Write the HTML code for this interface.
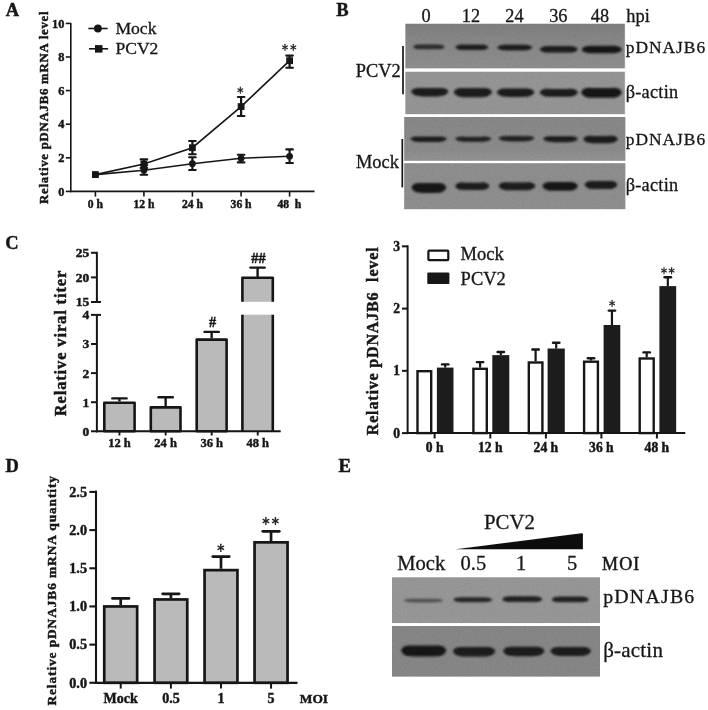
<!DOCTYPE html>
<html><head><meta charset="utf-8"><title>Figure</title>
<style>
html,body{margin:0;padding:0;background:#fff;}
body{width:708px;height:710px;overflow:hidden;font-family:"Liberation Serif",serif;}
svg{display:block;}
</style></head>
<body>
<svg width="708" height="710" viewBox="0 0 708 710">
<defs>
<filter id="b1" x="-20%" y="-100%" width="140%" height="300%"><feGaussianBlur stdDeviation="1.2 0.85"/></filter>
<filter id="soft" x="-5%" y="-5%" width="110%" height="110%"><feGaussianBlur stdDeviation="0.4"/></filter>
<filter id="noise" x="0" y="0" width="100%" height="100%"><feTurbulence type="fractalNoise" baseFrequency="0.55" numOctaves="3" seed="7" result="t"/><feColorMatrix in="t" type="matrix" values="0.34 0.33 0.33 0 0  0.34 0.33 0.33 0 0  0.34 0.33 0.33 0 0  0 0 0 0 0.28"/></filter>
<linearGradient id="g3" x1="0" y1="0" x2="0" y2="1"><stop offset="0" stop-color="#7c7c7c"/><stop offset="0.75" stop-color="#808080"/><stop offset="1" stop-color="#8a8a8a"/></linearGradient>
<linearGradient id="g1" x1="0" y1="0" x2="0" y2="1"><stop offset="0" stop-color="#727272"/><stop offset="0.35" stop-color="#7b7b7b"/><stop offset="1" stop-color="#838383"/></linearGradient>
</defs>
<rect x="0" y="0" width="708" height="710" fill="#ffffff"/>
<g filter="url(#soft)">
<line x1="70.8" y1="22.9" x2="70.8" y2="192.20000000000002" stroke="#161616" stroke-width="1.6" stroke-linecap="butt"/>
<line x1="70.0" y1="191.4" x2="314.5" y2="191.4" stroke="#161616" stroke-width="1.6" stroke-linecap="butt"/>
<line x1="65.8" y1="191.4" x2="70.8" y2="191.4" stroke="#161616" stroke-width="1.6" stroke-linecap="butt"/>
<text x="64.4" y="195.5" text-anchor="end" style="font-family:'Liberation Serif',serif;font-size:12.3px;font-weight:bold;" fill="#161616" stroke="#161616" stroke-width="0.45" xml:space="preserve">0</text>
<line x1="65.8" y1="157.8" x2="70.8" y2="157.8" stroke="#161616" stroke-width="1.6" stroke-linecap="butt"/>
<text x="64.4" y="161.9" text-anchor="end" style="font-family:'Liberation Serif',serif;font-size:12.3px;font-weight:bold;" fill="#161616" stroke="#161616" stroke-width="0.45" xml:space="preserve">2</text>
<line x1="65.8" y1="124.2" x2="70.8" y2="124.2" stroke="#161616" stroke-width="1.6" stroke-linecap="butt"/>
<text x="64.4" y="128.3" text-anchor="end" style="font-family:'Liberation Serif',serif;font-size:12.3px;font-weight:bold;" fill="#161616" stroke="#161616" stroke-width="0.45" xml:space="preserve">4</text>
<line x1="65.8" y1="90.6" x2="70.8" y2="90.6" stroke="#161616" stroke-width="1.6" stroke-linecap="butt"/>
<text x="64.4" y="94.7" text-anchor="end" style="font-family:'Liberation Serif',serif;font-size:12.3px;font-weight:bold;" fill="#161616" stroke="#161616" stroke-width="0.45" xml:space="preserve">6</text>
<line x1="65.8" y1="57.0" x2="70.8" y2="57.0" stroke="#161616" stroke-width="1.6" stroke-linecap="butt"/>
<text x="64.4" y="61.1" text-anchor="end" style="font-family:'Liberation Serif',serif;font-size:12.3px;font-weight:bold;" fill="#161616" stroke="#161616" stroke-width="0.45" xml:space="preserve">8</text>
<line x1="65.8" y1="23.4" x2="70.8" y2="23.4" stroke="#161616" stroke-width="1.6" stroke-linecap="butt"/>
<text x="64.4" y="27.5" text-anchor="end" style="font-family:'Liberation Serif',serif;font-size:12.3px;font-weight:bold;" fill="#161616" stroke="#161616" stroke-width="0.45" xml:space="preserve">10</text>
<line x1="95.4" y1="191.4" x2="95.4" y2="196.6" stroke="#161616" stroke-width="1.6" stroke-linecap="butt"/>
<text x="95.4" y="208.1" text-anchor="middle" style="font-family:'Liberation Serif',serif;font-size:11.6px;font-weight:bold;" fill="#161616" stroke="#161616" stroke-width="0.45" xml:space="preserve">0 h</text>
<line x1="143.9" y1="191.4" x2="143.9" y2="196.6" stroke="#161616" stroke-width="1.6" stroke-linecap="butt"/>
<text x="143.9" y="208.1" text-anchor="middle" style="font-family:'Liberation Serif',serif;font-size:11.6px;font-weight:bold;" fill="#161616" stroke="#161616" stroke-width="0.45" xml:space="preserve">12 h</text>
<line x1="192.4" y1="191.4" x2="192.4" y2="196.6" stroke="#161616" stroke-width="1.6" stroke-linecap="butt"/>
<text x="192.4" y="208.1" text-anchor="middle" style="font-family:'Liberation Serif',serif;font-size:11.6px;font-weight:bold;" fill="#161616" stroke="#161616" stroke-width="0.45" xml:space="preserve">24 h</text>
<line x1="241.1" y1="191.4" x2="241.1" y2="196.6" stroke="#161616" stroke-width="1.6" stroke-linecap="butt"/>
<text x="241.1" y="208.1" text-anchor="middle" style="font-family:'Liberation Serif',serif;font-size:11.6px;font-weight:bold;" fill="#161616" stroke="#161616" stroke-width="0.45" xml:space="preserve">36 h</text>
<line x1="289.6" y1="191.4" x2="289.6" y2="196.6" stroke="#161616" stroke-width="1.6" stroke-linecap="butt"/>
<text x="289.3" y="208.1" text-anchor="middle" style="font-family:'Liberation Serif',serif;font-size:11.6px;font-weight:bold;" fill="#161616" stroke="#161616" stroke-width="0.45" xml:space="preserve">48  h</text>
<text x="48.0" y="204.0" text-anchor="start" style="font-family:'Liberation Serif',serif;font-size:12.8px;font-weight:bold;letter-spacing:0.75px;" fill="#161616" stroke="#161616" stroke-width="0.45" transform="rotate(-90 48.0 204.0)" xml:space="preserve">Relative pDNAJB6 mRNA level</text>
<polyline points="95.4,174.6 143.9,170.23 192.4,163.68 241.1,158.3 289.6,156.29" fill="none" stroke="#161616" stroke-width="1.6"/>
<polyline points="95.4,174.6 143.9,164.02 192.4,147.72 241.1,106.56 289.6,60.7" fill="none" stroke="#161616" stroke-width="1.6"/>
<circle cx="95.4" cy="174.6" r="3.4" fill="#161616"/>
<rect x="92.0" y="171.2" width="6.8" height="6.8" fill="#161616"/>
<line x1="143.9" y1="165" x2="143.9" y2="174.8" stroke="#161616" stroke-width="2.2" stroke-linecap="butt"/>
<line x1="140.6" y1="165" x2="147.2" y2="165" stroke="#161616" stroke-width="2.1" stroke-linecap="round"/>
<line x1="140.6" y1="174.8" x2="147.2" y2="174.8" stroke="#161616" stroke-width="2.1" stroke-linecap="round"/>
<line x1="143.9" y1="159.4" x2="143.9" y2="168" stroke="#161616" stroke-width="2.2" stroke-linecap="butt"/>
<line x1="140.6" y1="159.4" x2="147.2" y2="159.4" stroke="#161616" stroke-width="2.1" stroke-linecap="round"/>
<line x1="140.6" y1="168" x2="147.2" y2="168" stroke="#161616" stroke-width="2.1" stroke-linecap="round"/>
<circle cx="143.9" cy="170.23" r="3.4" fill="#161616"/>
<rect x="140.5" y="160.62" width="6.8" height="6.8" fill="#161616"/>
<line x1="192.4" y1="157.3" x2="192.4" y2="170" stroke="#161616" stroke-width="2.2" stroke-linecap="butt"/>
<line x1="189.1" y1="157.3" x2="195.7" y2="157.3" stroke="#161616" stroke-width="2.1" stroke-linecap="round"/>
<line x1="189.1" y1="170" x2="195.7" y2="170" stroke="#161616" stroke-width="2.1" stroke-linecap="round"/>
<line x1="192.4" y1="141" x2="192.4" y2="154.3" stroke="#161616" stroke-width="2.2" stroke-linecap="butt"/>
<line x1="189.1" y1="141" x2="195.7" y2="141" stroke="#161616" stroke-width="2.1" stroke-linecap="round"/>
<line x1="189.1" y1="154.3" x2="195.7" y2="154.3" stroke="#161616" stroke-width="2.1" stroke-linecap="round"/>
<circle cx="192.4" cy="163.68" r="3.4" fill="#161616"/>
<rect x="189.0" y="144.32" width="6.8" height="6.8" fill="#161616"/>
<line x1="241.1" y1="154.8" x2="241.1" y2="162.4" stroke="#161616" stroke-width="2.2" stroke-linecap="butt"/>
<line x1="237.8" y1="154.8" x2="244.4" y2="154.8" stroke="#161616" stroke-width="2.1" stroke-linecap="round"/>
<line x1="237.8" y1="162.4" x2="244.4" y2="162.4" stroke="#161616" stroke-width="2.1" stroke-linecap="round"/>
<line x1="241.1" y1="97" x2="241.1" y2="116" stroke="#161616" stroke-width="2.2" stroke-linecap="butt"/>
<line x1="237.8" y1="97" x2="244.4" y2="97" stroke="#161616" stroke-width="2.1" stroke-linecap="round"/>
<line x1="237.8" y1="116" x2="244.4" y2="116" stroke="#161616" stroke-width="2.1" stroke-linecap="round"/>
<circle cx="241.1" cy="158.3" r="3.4" fill="#161616"/>
<rect x="237.7" y="103.16" width="6.8" height="6.8" fill="#161616"/>
<line x1="289.6" y1="149.4" x2="289.6" y2="163.0" stroke="#161616" stroke-width="2.2" stroke-linecap="butt"/>
<line x1="286.3" y1="149.4" x2="292.9" y2="149.4" stroke="#161616" stroke-width="2.1" stroke-linecap="round"/>
<line x1="286.3" y1="163.0" x2="292.9" y2="163.0" stroke="#161616" stroke-width="2.1" stroke-linecap="round"/>
<line x1="289.6" y1="55.6" x2="289.6" y2="67.7" stroke="#161616" stroke-width="2.2" stroke-linecap="butt"/>
<line x1="286.3" y1="55.6" x2="292.9" y2="55.6" stroke="#161616" stroke-width="2.1" stroke-linecap="round"/>
<line x1="286.3" y1="67.7" x2="292.9" y2="67.7" stroke="#161616" stroke-width="2.1" stroke-linecap="round"/>
<circle cx="289.6" cy="156.29" r="3.4" fill="#161616"/>
<rect x="286.2" y="57.3" width="6.8" height="6.8" fill="#161616"/>
<line x1="240.3" y1="87.1" x2="240.3" y2="93.3" stroke="#262626" stroke-width="1.15" stroke-linecap="round"/>
<line x1="237.88" y1="88.81" x2="242.72" y2="91.59" stroke="#262626" stroke-width="1.15" stroke-linecap="round"/>
<line x1="242.72" y1="88.81" x2="237.88" y2="91.59" stroke="#262626" stroke-width="1.15" stroke-linecap="round"/>
<line x1="285.0" y1="44.2" x2="285.0" y2="50.4" stroke="#262626" stroke-width="1.15" stroke-linecap="round"/>
<line x1="282.58" y1="45.9" x2="287.42" y2="48.7" stroke="#262626" stroke-width="1.15" stroke-linecap="round"/>
<line x1="287.42" y1="45.9" x2="282.58" y2="48.7" stroke="#262626" stroke-width="1.15" stroke-linecap="round"/>
<line x1="293.3" y1="44.2" x2="293.3" y2="50.4" stroke="#262626" stroke-width="1.15" stroke-linecap="round"/>
<line x1="290.88" y1="45.9" x2="295.72" y2="48.7" stroke="#262626" stroke-width="1.15" stroke-linecap="round"/>
<line x1="295.72" y1="45.9" x2="290.88" y2="48.7" stroke="#262626" stroke-width="1.15" stroke-linecap="round"/>
<line x1="88.4" y1="28.5" x2="107.6" y2="28.5" stroke="#161616" stroke-width="1.6" stroke-linecap="butt"/>
<circle cx="97.9" cy="28.5" r="3.9" fill="#161616"/>
<text x="115.4" y="33.6" text-anchor="start" style="font-family:'Liberation Serif',serif;font-size:17.6px;" fill="#161616" stroke="#161616" stroke-width="0.3" xml:space="preserve">Mock</text>
<line x1="89.0" y1="48.8" x2="108.1" y2="48.8" stroke="#161616" stroke-width="1.6" stroke-linecap="butt"/>
<rect x="95" y="45.1" width="7.5" height="7.5" fill="#161616"/>
<text x="115.4" y="54.1" text-anchor="start" style="font-family:'Liberation Serif',serif;font-size:17.6px;" fill="#161616" stroke="#161616" stroke-width="0.3" xml:space="preserve">PCV2</text>
<rect x="405.2" y="23.8" width="219.6" height="44.8" fill="url(#g1)"/>
<rect x="405.2" y="71.5" width="219.6" height="42.9" fill="#8c8c8c"/>
<rect x="404.2" y="117" width="221.1" height="43.9" fill="url(#g3)"/>
<rect x="404.2" y="163.1" width="221.1" height="46" fill="#848484"/>
<rect x="404.2" y="23.8" width="221.1" height="185.3" fill="#808080" filter="url(#noise)" opacity="0.55"/>
<rect x="403" y="68.6" width="224" height="2.9" fill="#fff"/>
<rect x="403" y="114.4" width="224" height="2.6" fill="#fff"/>
<rect x="403" y="160.9" width="224" height="2.2" fill="#fff"/>
<rect x="403.9" y="23" width="1.3" height="92" fill="#fff"/>
<text x="426" y="21.8" text-anchor="middle" style="font-family:'Liberation Serif',serif;font-size:18.3px;" fill="#161616" stroke="#161616" stroke-width="0.3" xml:space="preserve">0</text>
<text x="471" y="21.8" text-anchor="middle" style="font-family:'Liberation Serif',serif;font-size:18.3px;" fill="#161616" stroke="#161616" stroke-width="0.3" xml:space="preserve">12</text>
<text x="514.5" y="21.8" text-anchor="middle" style="font-family:'Liberation Serif',serif;font-size:18.3px;" fill="#161616" stroke="#161616" stroke-width="0.3" xml:space="preserve">24</text>
<text x="558.3" y="21.8" text-anchor="middle" style="font-family:'Liberation Serif',serif;font-size:18.3px;" fill="#161616" stroke="#161616" stroke-width="0.3" xml:space="preserve">36</text>
<text x="599.9" y="21.8" text-anchor="middle" style="font-family:'Liberation Serif',serif;font-size:18.3px;" fill="#161616" stroke="#161616" stroke-width="0.3" xml:space="preserve">48</text>
<text x="626.3" y="21.8" text-anchor="start" style="font-family:'Liberation Serif',serif;font-size:18.4px;" fill="#161616" stroke="#161616" stroke-width="0.3" xml:space="preserve">hpi</text>
<text x="625.7" y="53.1" text-anchor="start" style="font-family:'Liberation Serif',serif;font-size:17.4px;letter-spacing:1.0px;" fill="#161616" stroke="#161616" stroke-width="0.3" xml:space="preserve">pDNAJB6</text>
<text x="625.7" y="98.0" text-anchor="start" style="font-family:'Liberation Serif',serif;font-size:18.3px;letter-spacing:0.25px;" fill="#161616" stroke="#161616" stroke-width="0.3" xml:space="preserve">β-actin</text>
<text x="625.7" y="144.6" text-anchor="start" style="font-family:'Liberation Serif',serif;font-size:17.4px;letter-spacing:1.0px;" fill="#161616" stroke="#161616" stroke-width="0.3" xml:space="preserve">pDNAJB6</text>
<text x="625.7" y="190.9" text-anchor="start" style="font-family:'Liberation Serif',serif;font-size:18.3px;letter-spacing:0.25px;" fill="#161616" stroke="#161616" stroke-width="0.3" xml:space="preserve">β-actin</text>
<text x="355.8" y="76.5" text-anchor="start" style="font-family:'Liberation Serif',serif;font-size:18.4px;" fill="#161616" stroke="#161616" stroke-width="0.3" xml:space="preserve">PCV2</text>
<text x="356" y="168" text-anchor="start" style="font-family:'Liberation Serif',serif;font-size:18.4px;" fill="#161616" stroke="#161616" stroke-width="0.3" xml:space="preserve">Mock</text>
<line x1="403" y1="46" x2="403" y2="94.3" stroke="#161616" stroke-width="1.7" stroke-linecap="butt"/>
<line x1="402.3" y1="139" x2="402.3" y2="187.4" stroke="#161616" stroke-width="1.7" stroke-linecap="butt"/>
<path d="M412.8,46.9 C414.704,44.55 418.24,44.55 421.504,44.55 L436.096,44.55 C439.36,44.55 442.896,44.55 444.8,46.9 C442.896,49.25 439.36,49.25 435.00800000000004,49.25 L422.592,49.25 C418.24,49.25 414.704,49.25 412.8,46.9 Z" fill="#262626" opacity="0.95" filter="url(#b1)"/>
<path d="M455.2,47.2 C457.1873,44.400000000000006 460.878,44.400000000000006 464.2848,44.400000000000006 L479.5152,44.400000000000006 C482.922,44.400000000000006 486.6127,44.400000000000006 488.6,47.2 C486.6127,50.0 482.922,50.0 478.3796,50.0 L465.4204,50.0 C460.878,50.0 457.1873,50.0 455.2,47.2 Z" fill="#1e1e1e" opacity="1.0" filter="url(#b1)"/>
<path d="M497.0,47.6 C499.11225,44.800000000000004 503.035,44.800000000000004 506.656,44.800000000000004 L522.844,44.800000000000004 C526.465,44.800000000000004 530.38775,44.800000000000004 532.5,47.6 C530.38775,50.4 526.465,50.4 521.637,50.4 L507.863,50.4 C503.035,50.4 499.11225,50.4 497.0,47.6 Z" fill="#1e1e1e" opacity="1.0" filter="url(#b1)"/>
<path d="M539.5,49.3 C541.775,46.0 546.0,46.0 549.9,46.0 L567.6,46.0 C571.5,46.0 575.725,46.0 578,49.3 C575.725,52.599999999999994 571.5,52.599999999999994 566.3,52.599999999999994 L551.2,52.599999999999994 C546.0,52.599999999999994 541.775,52.599999999999994 539.5,49.3 Z" fill="#1a1a1a" opacity="1.0" filter="url(#b1)"/>
<path d="M581.5,49.5 C583.775,45.7 588.0,45.7 591.9,45.7 L611.6,45.7 C615.5,45.7 619.725,45.7 622,49.5 C619.725,53.3 615.5,53.3 610.3,53.3 L593.2,53.3 C588.0,53.3 583.775,53.3 581.5,49.5 Z" fill="#181818" opacity="1.0" filter="url(#b1)"/>
<path d="M411.0,91.6 C413.23720000000003,87.6 417.392,87.83999999999999 421.2272,88.0 L438.37280000000004,88.0 C442.208,87.83999999999999 446.3628,87.6 448.6,91.6 C446.3628,95.6 442.208,96.39999999999999 437.0944,96.39999999999999 L422.5056,96.39999999999999 C417.392,96.39999999999999 413.23720000000003,95.6 411.0,91.6 Z" fill="#1a1a1a" opacity="1.0" filter="url(#b1)"/>
<path d="M453.6,92.0 C455.875,87.6 460.1,87.83999999999999 464.0,88.0 L481.8,88.0 C485.7,87.83999999999999 489.925,87.6 492.2,92.0 C489.925,96.4 485.7,97.2 480.5,97.2 L465.3,97.2 C460.1,97.2 455.875,96.4 453.6,92.0 Z" fill="#1a1a1a" opacity="1.0" filter="url(#b1)"/>
<path d="M496.6,92.3 C498.85505,88.3 503.043,88.48 506.90880000000004,88.6 L524.1912,88.6 C528.057,88.48 532.24495,88.3 534.5,92.3 C532.24495,96.3 528.057,96.89999999999999 522.9026,96.89999999999999 L508.1974,96.89999999999999 C503.043,96.89999999999999 498.85505,96.3 496.6,92.3 Z" fill="#1a1a1a" opacity="1.0" filter="url(#b1)"/>
<path d="M539.5,92.4 C541.775,88.60000000000001 546.0,88.78000000000002 549.9,88.9 L567.6,88.9 C571.5,88.78000000000002 575.725,88.60000000000001 578,92.4 C575.725,96.2 571.5,96.8 566.3,96.8 L551.2,96.8 C546.0,96.8 541.775,96.2 539.5,92.4 Z" fill="#1a1a1a" opacity="1.0" filter="url(#b1)"/>
<path d="M581,92.4 C583.275,87.60000000000001 587.5,87.78000000000002 591.4,87.9 L611.6,87.9 C615.5,87.78000000000002 619.725,87.60000000000001 622,92.4 C619.725,97.2 615.5,97.8 610.3,97.8 L592.7,97.8 C587.5,97.8 583.275,97.2 581,92.4 Z" fill="#161616" opacity="1.0" filter="url(#b1)"/>
<path d="M410.0,138.8 C412.2134,136.20000000000002 416.324,136.41000000000003 420.1184,136.55 L437.0816,136.55 C440.876,136.41000000000003 444.9866,136.20000000000002 447.2,138.8 C444.9866,141.4 440.876,142.1 435.8168,142.1 L421.3832,142.1 C416.324,142.1 412.2134,141.4 410.0,138.8 Z" fill="#1e1e1e" opacity="1.0" filter="url(#b1)"/>
<path d="M455.0,138.8 C457.17175,136.35000000000002 461.205,136.53000000000003 464.928,136.65000000000003 L481.572,136.65000000000003 C485.295,136.53000000000003 489.32825,136.35000000000002 491.5,138.8 C489.32825,141.25 485.295,141.85 480.331,141.85 L466.169,141.85 C461.205,141.85 457.17175,141.25 455.0,138.8 Z" fill="#202020" opacity="1.0" filter="url(#b1)"/>
<path d="M498.5,138.3 C500.642,135.8 504.62,135.98000000000002 508.29200000000003,136.10000000000002 L524.708,136.10000000000002 C528.38,135.98000000000002 532.358,135.8 534.5,138.3 C532.358,140.8 528.38,141.4 523.484,141.4 L509.516,141.4 C504.62,141.4 500.642,140.8 498.5,138.3 Z" fill="#202020" opacity="1.0" filter="url(#b1)"/>
<path d="M543.0,138.8 C545.0825,136.0 548.95,136.18 552.52,136.3 L568.48,136.3 C572.05,136.18 575.9175,136.0 578,138.8 C575.9175,141.60000000000002 572.05,142.20000000000002 567.29,142.20000000000002 L553.71,142.20000000000002 C548.95,142.20000000000002 545.0825,141.60000000000002 543.0,138.8 Z" fill="#1e1e1e" opacity="1.0" filter="url(#b1)"/>
<path d="M583.3,139.0 C585.36465,135.5 589.199,135.74 592.7384,135.9 L608.5616,135.9 C612.101,135.74 615.93535,135.5 618,139.0 C615.93535,142.5 612.101,143.3 607.3818,143.3 L593.9182,143.3 C589.199,143.3 585.36465,142.5 583.3,139.0 Z" fill="#1a1a1a" opacity="1.0" filter="url(#b1)"/>
<path d="M411.4,187.5 C413.48845,182.7 417.36699999999996,182.88 420.9472,183.0 L436.95279999999997,183.0 C440.533,182.88 444.41155,182.7 446.5,187.5 C444.41155,192.3 440.533,192.9 435.75939999999997,192.9 L422.1406,192.9 C417.36699999999996,192.9 413.48845,192.3 411.4,187.5 Z" fill="#161616" opacity="1.0" filter="url(#b1)"/>
<path d="M455.0,186 C457.05275,182.4 460.865,182.55 464.384,182.65 L480.116,182.65 C483.635,182.55 487.44725,182.4 489.5,186 C487.44725,189.6 483.635,190.1 478.943,190.1 L465.557,190.1 C460.865,190.1 457.05275,189.6 455.0,186 Z" fill="#1a1a1a" opacity="1.0" filter="url(#b1)"/>
<path d="M498.5,186 C500.7015,182.15 504.79,182.3 508.564,182.4 L525.436,182.4 C529.21,182.3 533.2985,182.15 535.5,186 C533.2985,189.85 529.21,190.35 524.178,190.35 L509.822,190.35 C504.79,190.35 500.7015,189.85 498.5,186 Z" fill="#1a1a1a" opacity="1.0" filter="url(#b1)"/>
<path d="M542.2,186 C544.3301,181.7 548.2860000000001,181.85 551.9376000000001,181.95 L568.2624,181.95 C571.914,181.85 575.8699,181.7 578,186 C575.8699,190.3 571.914,190.8 567.0452,190.8 L553.1548,190.8 C548.2860000000001,190.8 544.3301,190.3 542.2,186 Z" fill="#181818" opacity="1.0" filter="url(#b1)"/>
<path d="M584.5,184.7 C586.4635,180.85 590.11,181.0 593.476,181.1 L608.524,181.1 C611.89,181.0 615.5365,180.85 617.5,184.7 C615.5365,188.54999999999998 611.89,189.04999999999998 607.402,189.04999999999998 L594.598,189.04999999999998 C590.11,189.04999999999998 586.4635,188.54999999999998 584.5,184.7 Z" fill="#1a1a1a" opacity="1.0" filter="url(#b1)"/>
<line x1="96.9" y1="251.8" x2="96.9" y2="302.0" stroke="#161616" stroke-width="2.0" stroke-linecap="butt"/>
<line x1="91.0" y1="252.8" x2="96.9" y2="252.8" stroke="#161616" stroke-width="2.0" stroke-linecap="butt"/>
<text x="89.2" y="257.2" text-anchor="end" style="font-family:'Liberation Serif',serif;font-size:13.5px;font-weight:bold;" fill="#161616" stroke="#161616" stroke-width="0.45" xml:space="preserve">25</text>
<line x1="91.0" y1="277.4" x2="96.9" y2="277.4" stroke="#161616" stroke-width="2.0" stroke-linecap="butt"/>
<text x="89.2" y="281.8" text-anchor="end" style="font-family:'Liberation Serif',serif;font-size:13.5px;font-weight:bold;" fill="#161616" stroke="#161616" stroke-width="0.45" xml:space="preserve">20</text>
<line x1="91.0" y1="302.0" x2="101.0" y2="302.0" stroke="#161616" stroke-width="2.0" stroke-linecap="butt"/>
<text x="89.2" y="306.4" text-anchor="end" style="font-family:'Liberation Serif',serif;font-size:13.5px;font-weight:bold;" fill="#161616" stroke="#161616" stroke-width="0.45" xml:space="preserve">15</text>
<line x1="96.9" y1="314.9" x2="96.9" y2="432.3" stroke="#161616" stroke-width="2.0" stroke-linecap="butt"/>
<line x1="91.0" y1="431.3" x2="96.9" y2="431.3" stroke="#161616" stroke-width="2.0" stroke-linecap="butt"/>
<text x="89.2" y="435.7" text-anchor="end" style="font-family:'Liberation Serif',serif;font-size:13.5px;font-weight:bold;" fill="#161616" stroke="#161616" stroke-width="0.45" xml:space="preserve">0</text>
<line x1="91.0" y1="402.2" x2="96.9" y2="402.2" stroke="#161616" stroke-width="2.0" stroke-linecap="butt"/>
<text x="89.2" y="406.6" text-anchor="end" style="font-family:'Liberation Serif',serif;font-size:13.5px;font-weight:bold;" fill="#161616" stroke="#161616" stroke-width="0.45" xml:space="preserve">1</text>
<line x1="91.0" y1="373.1" x2="96.9" y2="373.1" stroke="#161616" stroke-width="2.0" stroke-linecap="butt"/>
<text x="89.2" y="377.5" text-anchor="end" style="font-family:'Liberation Serif',serif;font-size:13.5px;font-weight:bold;" fill="#161616" stroke="#161616" stroke-width="0.45" xml:space="preserve">2</text>
<line x1="91.0" y1="344.0" x2="96.9" y2="344.0" stroke="#161616" stroke-width="2.0" stroke-linecap="butt"/>
<text x="89.2" y="348.4" text-anchor="end" style="font-family:'Liberation Serif',serif;font-size:13.5px;font-weight:bold;" fill="#161616" stroke="#161616" stroke-width="0.45" xml:space="preserve">3</text>
<line x1="91.0" y1="314.9" x2="101.0" y2="314.9" stroke="#161616" stroke-width="2.0" stroke-linecap="butt"/>
<text x="89.2" y="319.3" text-anchor="end" style="font-family:'Liberation Serif',serif;font-size:13.5px;font-weight:bold;" fill="#161616" stroke="#161616" stroke-width="0.45" xml:space="preserve">4</text>
<line x1="119.45" y1="398.4" x2="119.45" y2="401.4" stroke="#161616" stroke-width="2.4" stroke-linecap="butt"/>
<line x1="112.3" y1="398.4" x2="126.6" y2="398.4" stroke="#161616" stroke-width="2.4" stroke-linecap="round"/>
<rect x="104.3" y="402.7" width="30.3" height="28.6" fill="#bababa" stroke="#161616" stroke-width="2.6" stroke-linejoin="round"/>
<line x1="165.65" y1="397.2" x2="165.65" y2="406.1" stroke="#161616" stroke-width="2.4" stroke-linecap="butt"/>
<line x1="158.5" y1="397.2" x2="172.8" y2="397.2" stroke="#161616" stroke-width="2.4" stroke-linecap="round"/>
<rect x="150.8" y="407.4" width="29.7" height="23.9" fill="#bababa" stroke="#161616" stroke-width="2.6" stroke-linejoin="round"/>
<line x1="211.65" y1="331.9" x2="211.65" y2="338.3" stroke="#161616" stroke-width="2.4" stroke-linecap="butt"/>
<line x1="204.5" y1="331.9" x2="218.8" y2="331.9" stroke="#161616" stroke-width="2.4" stroke-linecap="round"/>
<rect x="196.7" y="339.6" width="29.9" height="91.7" fill="#bababa" stroke="#161616" stroke-width="2.6" stroke-linejoin="round"/>
<line x1="257.6" y1="267.6" x2="257.6" y2="277" stroke="#161616" stroke-width="2.4" stroke-linecap="butt"/>
<line x1="250.45" y1="267.6" x2="264.75" y2="267.6" stroke="#161616" stroke-width="2.4" stroke-linecap="round"/>
<path d="M242.4,301.8 V277.7 H272.8 V301.8" fill="#bababa" stroke="#161616" stroke-width="2.6" stroke-linejoin="round"/>
<rect x="243.1" y="314.7" width="29.0" height="116.6" fill="#bababa"/>
<path d="M242.4,314.7 V431.3 M272.8,314.7 V431.3" fill="none" stroke="#161616" stroke-width="2.6"/>
<line x1="95.9" y1="431.3" x2="280.7" y2="431.3" stroke="#161616" stroke-width="2.0" stroke-linecap="butt"/>
<line x1="119.45" y1="431.3" x2="119.45" y2="435.5" stroke="#161616" stroke-width="1.9" stroke-linecap="butt"/>
<text x="119.45" y="446.8" text-anchor="middle" style="font-family:'Liberation Serif',serif;font-size:12.5px;font-weight:bold;" fill="#161616" stroke="#161616" stroke-width="0.45" xml:space="preserve">12 h</text>
<line x1="165.65" y1="431.3" x2="165.65" y2="435.5" stroke="#161616" stroke-width="1.9" stroke-linecap="butt"/>
<text x="165.65" y="446.8" text-anchor="middle" style="font-family:'Liberation Serif',serif;font-size:12.5px;font-weight:bold;" fill="#161616" stroke="#161616" stroke-width="0.45" xml:space="preserve">24 h</text>
<line x1="211.7" y1="431.3" x2="211.7" y2="435.5" stroke="#161616" stroke-width="1.9" stroke-linecap="butt"/>
<text x="211.7" y="446.8" text-anchor="middle" style="font-family:'Liberation Serif',serif;font-size:12.5px;font-weight:bold;" fill="#161616" stroke="#161616" stroke-width="0.45" xml:space="preserve">36 h</text>
<line x1="257.75" y1="431.3" x2="257.75" y2="435.5" stroke="#161616" stroke-width="1.9" stroke-linecap="butt"/>
<text x="257.75" y="446.8" text-anchor="middle" style="font-family:'Liberation Serif',serif;font-size:12.5px;font-weight:bold;" fill="#161616" stroke="#161616" stroke-width="0.45" xml:space="preserve">48 h</text>
<text x="212.6" y="327.0" text-anchor="middle" style="font-family:'Liberation Serif',serif;font-size:14.3px;font-weight:bold;" fill="#161616" stroke="#161616" stroke-width="0.45" xml:space="preserve">#</text>
<text x="258.5" y="262.8" text-anchor="middle" style="font-family:'Liberation Serif',serif;font-size:14.3px;font-weight:bold;" fill="#161616" stroke="#161616" stroke-width="0.45" xml:space="preserve">##</text>
<text x="66.5" y="416.2" text-anchor="start" style="font-family:'Liberation Serif',serif;font-size:16.4px;font-weight:bold;letter-spacing:0.9px;" fill="#161616" stroke="#161616" stroke-width="0.45" transform="rotate(-90 66.5 416.2)" xml:space="preserve">Relative viral titer</text>
<line x1="407.6" y1="245.3" x2="407.6" y2="434.1" stroke="#161616" stroke-width="2.0" stroke-linecap="butt"/>
<line x1="402" y1="433.1" x2="407.6" y2="433.1" stroke="#161616" stroke-width="2.0" stroke-linecap="butt"/>
<text x="400.0" y="437.7" text-anchor="end" style="font-family:'Liberation Serif',serif;font-size:13.6px;font-weight:bold;" fill="#161616" stroke="#161616" stroke-width="0.45" xml:space="preserve">0</text>
<line x1="402" y1="370.85" x2="407.6" y2="370.85" stroke="#161616" stroke-width="2.0" stroke-linecap="butt"/>
<text x="400.0" y="375.45" text-anchor="end" style="font-family:'Liberation Serif',serif;font-size:13.6px;font-weight:bold;" fill="#161616" stroke="#161616" stroke-width="0.45" xml:space="preserve">1</text>
<line x1="402" y1="308.6" x2="407.6" y2="308.6" stroke="#161616" stroke-width="2.0" stroke-linecap="butt"/>
<text x="400.0" y="313.2" text-anchor="end" style="font-family:'Liberation Serif',serif;font-size:13.6px;font-weight:bold;" fill="#161616" stroke="#161616" stroke-width="0.45" xml:space="preserve">2</text>
<line x1="402" y1="246.35" x2="407.6" y2="246.35" stroke="#161616" stroke-width="2.0" stroke-linecap="butt"/>
<text x="400.0" y="250.95" text-anchor="end" style="font-family:'Liberation Serif',serif;font-size:13.6px;font-weight:bold;" fill="#161616" stroke="#161616" stroke-width="0.45" xml:space="preserve">3</text>
<rect x="417.5" y="371.2" width="13.7" height="61.9" fill="#fff" stroke="#161616" stroke-width="2.4"/>
<line x1="480.1" y1="362.1" x2="480.1" y2="367.6" stroke="#161616" stroke-width="2.2" stroke-linecap="butt"/>
<line x1="476.9" y1="362.1" x2="483.3" y2="362.1" stroke="#161616" stroke-width="2.4" stroke-linecap="round"/>
<rect x="473.4" y="368.8" width="13.4" height="64.3" fill="#fff" stroke="#161616" stroke-width="2.4"/>
<line x1="535.6" y1="349.5" x2="535.6" y2="361.3" stroke="#161616" stroke-width="2.2" stroke-linecap="butt"/>
<line x1="532.4" y1="349.5" x2="538.8" y2="349.5" stroke="#161616" stroke-width="2.4" stroke-linecap="round"/>
<rect x="528.8" y="362.5" width="13.6" height="70.6" fill="#fff" stroke="#161616" stroke-width="2.4"/>
<line x1="591.0" y1="358.2" x2="591.0" y2="360.5" stroke="#161616" stroke-width="2.2" stroke-linecap="butt"/>
<line x1="587.8" y1="358.2" x2="594.2" y2="358.2" stroke="#161616" stroke-width="2.4" stroke-linecap="round"/>
<rect x="584.1" y="361.7" width="13.8" height="71.4" fill="#fff" stroke="#161616" stroke-width="2.4"/>
<line x1="646.7" y1="352.4" x2="646.7" y2="357.3" stroke="#161616" stroke-width="2.2" stroke-linecap="butt"/>
<line x1="643.5" y1="352.4" x2="649.9" y2="352.4" stroke="#161616" stroke-width="2.4" stroke-linecap="round"/>
<rect x="639.7" y="358.5" width="14.0" height="74.6" fill="#fff" stroke="#161616" stroke-width="2.4"/>
<line x1="445.2" y1="364.4" x2="445.2" y2="367.6" stroke="#161616" stroke-width="2.2" stroke-linecap="butt"/>
<line x1="442.0" y1="364.4" x2="448.4" y2="364.4" stroke="#161616" stroke-width="2.4" stroke-linecap="round"/>
<rect x="436.9" y="367.6" width="16.6" height="65.5" fill="#1e1e1e"/>
<line x1="500.8" y1="352" x2="500.8" y2="355.1" stroke="#161616" stroke-width="2.2" stroke-linecap="butt"/>
<line x1="497.6" y1="352" x2="504.0" y2="352" stroke="#161616" stroke-width="2.4" stroke-linecap="round"/>
<rect x="492.3" y="355.1" width="17.0" height="78.0" fill="#1e1e1e"/>
<line x1="556.2" y1="342.8" x2="556.2" y2="348.5" stroke="#161616" stroke-width="2.2" stroke-linecap="butt"/>
<line x1="553.0" y1="342.8" x2="559.4" y2="342.8" stroke="#161616" stroke-width="2.4" stroke-linecap="round"/>
<rect x="547.6" y="348.5" width="17.2" height="84.6" fill="#1e1e1e"/>
<line x1="611.95" y1="310.6" x2="611.95" y2="325.0" stroke="#161616" stroke-width="2.2" stroke-linecap="butt"/>
<line x1="608.75" y1="310.6" x2="615.15" y2="310.6" stroke="#161616" stroke-width="2.4" stroke-linecap="round"/>
<rect x="603.6" y="325.0" width="16.7" height="108.1" fill="#1e1e1e"/>
<line x1="667.8" y1="277.3" x2="667.8" y2="286.1" stroke="#161616" stroke-width="2.2" stroke-linecap="butt"/>
<line x1="664.6" y1="277.3" x2="671.0" y2="277.3" stroke="#161616" stroke-width="2.4" stroke-linecap="round"/>
<rect x="659.4" y="286.1" width="16.8" height="147.0" fill="#1e1e1e"/>
<line x1="406.6" y1="433.1" x2="685.3" y2="433.1" stroke="#161616" stroke-width="2.0" stroke-linecap="butt"/>
<line x1="434.6" y1="433.1" x2="434.6" y2="438.5" stroke="#161616" stroke-width="2.0" stroke-linecap="butt"/>
<text x="434.6" y="452.2" text-anchor="middle" style="font-family:'Liberation Serif',serif;font-size:13.6px;font-weight:bold;" fill="#161616" stroke="#161616" stroke-width="0.45" xml:space="preserve">0 h</text>
<line x1="490.3" y1="433.1" x2="490.3" y2="438.5" stroke="#161616" stroke-width="2.0" stroke-linecap="butt"/>
<text x="490.3" y="452.2" text-anchor="middle" style="font-family:'Liberation Serif',serif;font-size:13.6px;font-weight:bold;" fill="#161616" stroke="#161616" stroke-width="0.45" xml:space="preserve">12 h</text>
<line x1="545.9" y1="433.1" x2="545.9" y2="438.5" stroke="#161616" stroke-width="2.0" stroke-linecap="butt"/>
<text x="545.9" y="452.2" text-anchor="middle" style="font-family:'Liberation Serif',serif;font-size:13.6px;font-weight:bold;" fill="#161616" stroke="#161616" stroke-width="0.45" xml:space="preserve">24 h</text>
<line x1="601.4" y1="433.1" x2="601.4" y2="438.5" stroke="#161616" stroke-width="2.0" stroke-linecap="butt"/>
<text x="601.4" y="452.2" text-anchor="middle" style="font-family:'Liberation Serif',serif;font-size:13.6px;font-weight:bold;" fill="#161616" stroke="#161616" stroke-width="0.45" xml:space="preserve">36 h</text>
<line x1="656.9" y1="433.1" x2="656.9" y2="438.5" stroke="#161616" stroke-width="2.0" stroke-linecap="butt"/>
<text x="656.9" y="452.2" text-anchor="middle" style="font-family:'Liberation Serif',serif;font-size:13.6px;font-weight:bold;" fill="#161616" stroke="#161616" stroke-width="0.45" xml:space="preserve">48 h</text>
<line x1="612.1" y1="300.3" x2="612.1" y2="306.5" stroke="#262626" stroke-width="1.15" stroke-linecap="round"/>
<line x1="609.68" y1="302.0" x2="614.52" y2="304.79" stroke="#262626" stroke-width="1.15" stroke-linecap="round"/>
<line x1="614.52" y1="302.0" x2="609.68" y2="304.79" stroke="#262626" stroke-width="1.15" stroke-linecap="round"/>
<line x1="664.0" y1="267.5" x2="664.0" y2="273.7" stroke="#262626" stroke-width="1.15" stroke-linecap="round"/>
<line x1="661.58" y1="269.21" x2="666.42" y2="272.0" stroke="#262626" stroke-width="1.15" stroke-linecap="round"/>
<line x1="666.42" y1="269.21" x2="661.58" y2="272.0" stroke="#262626" stroke-width="1.15" stroke-linecap="round"/>
<line x1="671.6" y1="267.5" x2="671.6" y2="273.7" stroke="#262626" stroke-width="1.15" stroke-linecap="round"/>
<line x1="669.18" y1="269.21" x2="674.02" y2="272.0" stroke="#262626" stroke-width="1.15" stroke-linecap="round"/>
<line x1="674.02" y1="269.21" x2="669.18" y2="272.0" stroke="#262626" stroke-width="1.15" stroke-linecap="round"/>
<rect x="428.4" y="250.6" width="19.9" height="9.5" rx="0.8" fill="#fff" stroke="#161616" stroke-width="2.2"/>
<rect x="427.3" y="272.4" width="22.1" height="11.7" rx="1.2" fill="#161616"/>
<text x="460.6" y="259.7" text-anchor="start" style="font-family:'Liberation Serif',serif;font-size:18.5px;" fill="#161616" stroke="#161616" stroke-width="0.3" xml:space="preserve">Mock</text>
<text x="460.6" y="285.1" text-anchor="start" style="font-family:'Liberation Serif',serif;font-size:18.5px;" fill="#161616" stroke="#161616" stroke-width="0.3" xml:space="preserve">PCV2</text>
<text x="378.2" y="435.2" text-anchor="start" style="font-family:'Liberation Serif',serif;font-size:16.0px;font-weight:bold;letter-spacing:0.84px;" fill="#161616" stroke="#161616" stroke-width="0.45" transform="rotate(-90 378.2 435.2)" xml:space="preserve">Relative pDNAJB6  level</text>
<line x1="96.0" y1="490.65" x2="96.0" y2="683.8499999999999" stroke="#161616" stroke-width="2.1" stroke-linecap="butt"/>
<line x1="89.4" y1="682.8" x2="96.0" y2="682.8" stroke="#161616" stroke-width="2.1" stroke-linecap="butt"/>
<text x="87.0" y="687.5" text-anchor="end" style="font-family:'Liberation Serif',serif;font-size:14.2px;font-weight:bold;" fill="#161616" stroke="#161616" stroke-width="0.45" xml:space="preserve">0.0</text>
<line x1="89.4" y1="644.62" x2="96.0" y2="644.62" stroke="#161616" stroke-width="2.1" stroke-linecap="butt"/>
<text x="87.0" y="649.32" text-anchor="end" style="font-family:'Liberation Serif',serif;font-size:14.2px;font-weight:bold;" fill="#161616" stroke="#161616" stroke-width="0.45" xml:space="preserve">0.5</text>
<line x1="89.4" y1="606.45" x2="96.0" y2="606.45" stroke="#161616" stroke-width="2.1" stroke-linecap="butt"/>
<text x="87.0" y="611.15" text-anchor="end" style="font-family:'Liberation Serif',serif;font-size:14.2px;font-weight:bold;" fill="#161616" stroke="#161616" stroke-width="0.45" xml:space="preserve">1.0</text>
<line x1="89.4" y1="568.27" x2="96.0" y2="568.27" stroke="#161616" stroke-width="2.1" stroke-linecap="butt"/>
<text x="87.0" y="572.97" text-anchor="end" style="font-family:'Liberation Serif',serif;font-size:14.2px;font-weight:bold;" fill="#161616" stroke="#161616" stroke-width="0.45" xml:space="preserve">1.5</text>
<line x1="89.4" y1="530.1" x2="96.0" y2="530.1" stroke="#161616" stroke-width="2.1" stroke-linecap="butt"/>
<text x="87.0" y="534.8" text-anchor="end" style="font-family:'Liberation Serif',serif;font-size:14.2px;font-weight:bold;" fill="#161616" stroke="#161616" stroke-width="0.45" xml:space="preserve">2.0</text>
<line x1="89.4" y1="491.92" x2="96.0" y2="491.92" stroke="#161616" stroke-width="2.1" stroke-linecap="butt"/>
<text x="87.0" y="496.62" text-anchor="end" style="font-family:'Liberation Serif',serif;font-size:14.2px;font-weight:bold;" fill="#161616" stroke="#161616" stroke-width="0.45" xml:space="preserve">2.5</text>
<line x1="120.7" y1="598.4" x2="120.7" y2="605.1" stroke="#161616" stroke-width="2.7" stroke-linecap="butt"/>
<line x1="112.45" y1="598.4" x2="128.95" y2="598.4" stroke="#161616" stroke-width="2.7" stroke-linecap="round"/>
<rect x="104.25" y="606.45" width="32.9" height="76.35" fill="#bababa" stroke="#161616" stroke-width="2.7"/>
<line x1="170.9" y1="593.8" x2="170.9" y2="598.1" stroke="#161616" stroke-width="2.7" stroke-linecap="butt"/>
<line x1="162.65" y1="593.8" x2="179.15" y2="593.8" stroke="#161616" stroke-width="2.7" stroke-linecap="round"/>
<rect x="154.55" y="599.45" width="32.7" height="83.35" fill="#bababa" stroke="#161616" stroke-width="2.7"/>
<line x1="221.0" y1="556.6" x2="221.0" y2="568.8" stroke="#161616" stroke-width="2.7" stroke-linecap="butt"/>
<line x1="212.75" y1="556.6" x2="229.25" y2="556.6" stroke="#161616" stroke-width="2.7" stroke-linecap="round"/>
<rect x="204.55" y="570.15" width="32.9" height="112.65" fill="#bababa" stroke="#161616" stroke-width="2.7"/>
<line x1="271.05" y1="531.3" x2="271.05" y2="541.0" stroke="#161616" stroke-width="2.7" stroke-linecap="butt"/>
<line x1="262.8" y1="531.3" x2="279.3" y2="531.3" stroke="#161616" stroke-width="2.7" stroke-linecap="round"/>
<rect x="254.55" y="542.35" width="33.0" height="140.45" fill="#bababa" stroke="#161616" stroke-width="2.7"/>
<line x1="94.95" y1="682.8" x2="297.5" y2="682.8" stroke="#161616" stroke-width="2.3" stroke-linecap="butt"/>
<line x1="120.7" y1="682.8" x2="120.7" y2="688.6" stroke="#161616" stroke-width="2.0" stroke-linecap="butt"/>
<text x="120.7" y="702.6" text-anchor="middle" style="font-family:'Liberation Serif',serif;font-size:14.0px;font-weight:bold;" fill="#161616" stroke="#161616" stroke-width="0.45" xml:space="preserve">Mock</text>
<line x1="170.9" y1="682.8" x2="170.9" y2="688.6" stroke="#161616" stroke-width="2.0" stroke-linecap="butt"/>
<text x="170.9" y="702.6" text-anchor="middle" style="font-family:'Liberation Serif',serif;font-size:14.0px;font-weight:bold;" fill="#161616" stroke="#161616" stroke-width="0.45" xml:space="preserve">0.5</text>
<line x1="221.0" y1="682.8" x2="221.0" y2="688.6" stroke="#161616" stroke-width="2.0" stroke-linecap="butt"/>
<text x="221.0" y="702.6" text-anchor="middle" style="font-family:'Liberation Serif',serif;font-size:14.0px;font-weight:bold;" fill="#161616" stroke="#161616" stroke-width="0.45" xml:space="preserve">1</text>
<line x1="271.05" y1="682.8" x2="271.05" y2="688.6" stroke="#161616" stroke-width="2.0" stroke-linecap="butt"/>
<text x="271.05" y="702.6" text-anchor="middle" style="font-family:'Liberation Serif',serif;font-size:14.0px;font-weight:bold;" fill="#161616" stroke="#161616" stroke-width="0.45" xml:space="preserve">5</text>
<text x="299.8" y="702.6" text-anchor="start" style="font-family:'Liberation Serif',serif;font-size:13.4px;font-weight:bold;" fill="#161616" stroke="#161616" stroke-width="0.45" xml:space="preserve">MOI</text>
<line x1="220.8" y1="544.2" x2="220.8" y2="551.4" stroke="#262626" stroke-width="1.4" stroke-linecap="round"/>
<line x1="217.99" y1="546.18" x2="223.61" y2="549.42" stroke="#262626" stroke-width="1.4" stroke-linecap="round"/>
<line x1="223.61" y1="546.18" x2="217.99" y2="549.42" stroke="#262626" stroke-width="1.4" stroke-linecap="round"/>
<line x1="265.9" y1="517.4" x2="265.9" y2="524.6" stroke="#262626" stroke-width="1.4" stroke-linecap="round"/>
<line x1="263.09" y1="519.38" x2="268.71" y2="522.62" stroke="#262626" stroke-width="1.4" stroke-linecap="round"/>
<line x1="268.71" y1="519.38" x2="263.09" y2="522.62" stroke="#262626" stroke-width="1.4" stroke-linecap="round"/>
<line x1="275.4" y1="517.4" x2="275.4" y2="524.6" stroke="#262626" stroke-width="1.4" stroke-linecap="round"/>
<line x1="272.59" y1="519.38" x2="278.21" y2="522.62" stroke="#262626" stroke-width="1.4" stroke-linecap="round"/>
<line x1="278.21" y1="519.38" x2="272.59" y2="522.62" stroke="#262626" stroke-width="1.4" stroke-linecap="round"/>
<text x="56.3" y="705.6" text-anchor="start" style="font-family:'Liberation Serif',serif;font-size:13.4px;font-weight:bold;letter-spacing:0.9px;" fill="#161616" stroke="#161616" stroke-width="0.45" transform="rotate(-90 56.3 705.6)" xml:space="preserve">Relative pDNAJB6 mRNA quantity</text>
<rect x="392.0" y="577.3" width="208.0" height="45.9" fill="#8e8e8e"/>
<rect x="392.0" y="626" width="208.0" height="50.6" fill="#7b7b7b"/>
<rect x="392.0" y="577.3" width="208.0" height="99.1" fill="#808080" filter="url(#noise)" opacity="0.55"/>
<rect x="391.0" y="623.2" width="210.0" height="2.8" fill="#fff"/>
<text x="484" y="528.8" text-anchor="start" style="font-family:'Liberation Serif',serif;font-size:20.8px;" fill="#161616" stroke="#161616" stroke-width="0.3" xml:space="preserve">PCV2</text>
<path d="M455.5,549.2 L582.9,549.2 L582.9,534 Q582.9,533 581.5,533.2 Z" fill="#0e0e0e"/>
<text x="397.2" y="569.7" text-anchor="start" style="font-family:'Liberation Serif',serif;font-size:20.6px;" fill="#161616" stroke="#161616" stroke-width="0.3" xml:space="preserve">Mock</text>
<text x="473.4" y="569.7" text-anchor="middle" style="font-family:'Liberation Serif',serif;font-size:20.5px;" fill="#161616" stroke="#161616" stroke-width="0.3" xml:space="preserve">0.5</text>
<text x="521.2" y="569.7" text-anchor="middle" style="font-family:'Liberation Serif',serif;font-size:20.5px;" fill="#161616" stroke="#161616" stroke-width="0.3" xml:space="preserve">1</text>
<text x="572.2" y="569.7" text-anchor="middle" style="font-family:'Liberation Serif',serif;font-size:20.5px;" fill="#161616" stroke="#161616" stroke-width="0.3" xml:space="preserve">5</text>
<text x="602" y="570" text-anchor="start" style="font-family:'Liberation Serif',serif;font-size:18px;letter-spacing:1.15px;" fill="#161616" stroke="#161616" stroke-width="0.5" xml:space="preserve">MOI</text>
<text x="603.2" y="603" text-anchor="start" style="font-family:'Liberation Serif',serif;font-size:19.8px;letter-spacing:1.25px;" fill="#161616" stroke="#161616" stroke-width="0.3" xml:space="preserve">pDNAJB6</text>
<text x="603.2" y="656.6" text-anchor="start" style="font-family:'Liberation Serif',serif;font-size:21px;letter-spacing:0.2px;" fill="#161616" stroke="#161616" stroke-width="0.3" xml:space="preserve">β-actin</text>
<path d="M403.5,600.6 C405.775,598.8000000000001 410.0,598.8000000000001 413.9,598.8000000000001 L433.1,598.8000000000001 C437.0,598.8000000000001 441.225,598.8000000000001 443.5,600.6 C441.225,602.4 437.0,602.4 431.8,602.4 L415.2,602.4 C410.0,602.4 405.775,602.4 403.5,600.6 Z" fill="#444" opacity="0.85" filter="url(#b1)"/>
<path d="M453.0,599.8 C455.275,597.3499999999999 459.5,597.3499999999999 463.4,597.3499999999999 L482.1,597.3499999999999 C486.0,597.3499999999999 490.225,597.3499999999999 492.5,599.8 C490.225,602.25 486.0,602.25 480.8,602.25 L464.7,602.25 C459.5,602.25 455.275,602.25 453.0,599.8 Z" fill="#282828" opacity="1.0" filter="url(#b1)"/>
<path d="M502.0,599.2 C504.275,596.3000000000001 508.5,596.3000000000001 512.4,596.3000000000001 L532.1,596.3000000000001 C536.0,596.3000000000001 540.225,596.3000000000001 542.5,599.2 C540.225,602.1 536.0,602.1 530.8,602.1 L513.7,602.1 C508.5,602.1 504.275,602.1 502.0,599.2 Z" fill="#202020" opacity="1.0" filter="url(#b1)"/>
<path d="M551.5,599.4 C553.73125,596.5 557.875,596.5 561.7,596.5 L578.8,596.5 C582.625,596.5 586.76875,596.5 589,599.4 C586.76875,602.3 582.625,602.3 577.525,602.3 L562.975,602.3 C557.875,602.3 553.73125,602.3 551.5,599.4 Z" fill="#242424" opacity="1.0" filter="url(#b1)"/>
<path d="M401.0,650.6 C403.275,645.3000000000001 407.5,645.48 411.4,645.6 L436.1,645.6 C440.0,645.48 444.225,645.3000000000001 446.5,650.6 C444.225,655.9 440.0,656.5 434.8,656.5 L412.7,656.5 C407.5,656.5 403.275,655.9 401.0,650.6 Z" fill="#181818" opacity="1.0" filter="url(#b1)"/>
<path d="M452.8,651.3 C455.075,646.65 459.3,646.8299999999999 463.2,646.9499999999999 L485.1,646.9499999999999 C489.0,646.8299999999999 493.225,646.65 495.5,651.3 C493.225,655.9499999999999 489.0,656.55 483.8,656.55 L464.5,656.55 C459.3,656.55 455.075,655.9499999999999 452.8,651.3 Z" fill="#1a1a1a" opacity="1.0" filter="url(#b1)"/>
<path d="M503.0,651.1 C505.275,646.5500000000001 509.5,646.73 513.4,646.85 L534.1,646.85 C538.0,646.73 542.225,646.5500000000001 544.5,651.1 C542.225,655.65 538.0,656.25 532.8,656.25 L514.7,656.25 C509.5,656.25 505.275,655.65 503.0,651.1 Z" fill="#1a1a1a" opacity="1.0" filter="url(#b1)"/>
<path d="M550.2,651.1 C552.475,646.75 556.7,646.93 560.6,647.05 L580.8000000000001,647.05 C584.7,646.93 588.9250000000001,646.75 591.2,651.1 C588.9250000000001,655.45 584.7,656.0500000000001 579.5,656.0500000000001 L561.9000000000001,656.0500000000001 C556.7,656.0500000000001 552.475,655.45 550.2,651.1 Z" fill="#1a1a1a" opacity="1.0" filter="url(#b1)"/>
<text x="5.7" y="16.0" text-anchor="start" style="font-family:'Liberation Serif',serif;font-size:18.5px;font-weight:bold;" fill="#161616" stroke="#161616" stroke-width="0.45" xml:space="preserve">A</text>
<text x="336.3" y="16.0" text-anchor="start" style="font-family:'Liberation Serif',serif;font-size:18.5px;font-weight:bold;" fill="#161616" stroke="#161616" stroke-width="0.45" xml:space="preserve">B</text>
<text x="5.3" y="248.9" text-anchor="start" style="font-family:'Liberation Serif',serif;font-size:18.5px;font-weight:bold;" fill="#161616" stroke="#161616" stroke-width="0.45" xml:space="preserve">C</text>
<text x="5.6" y="471.8" text-anchor="start" style="font-family:'Liberation Serif',serif;font-size:18.5px;font-weight:bold;" fill="#161616" stroke="#161616" stroke-width="0.45" xml:space="preserve">D</text>
<text x="338.4" y="472.0" text-anchor="start" style="font-family:'Liberation Serif',serif;font-size:18.7px;font-weight:bold;" fill="#161616" stroke="#161616" stroke-width="0.45" xml:space="preserve">E</text>
</g>
</svg>
</body></html>
